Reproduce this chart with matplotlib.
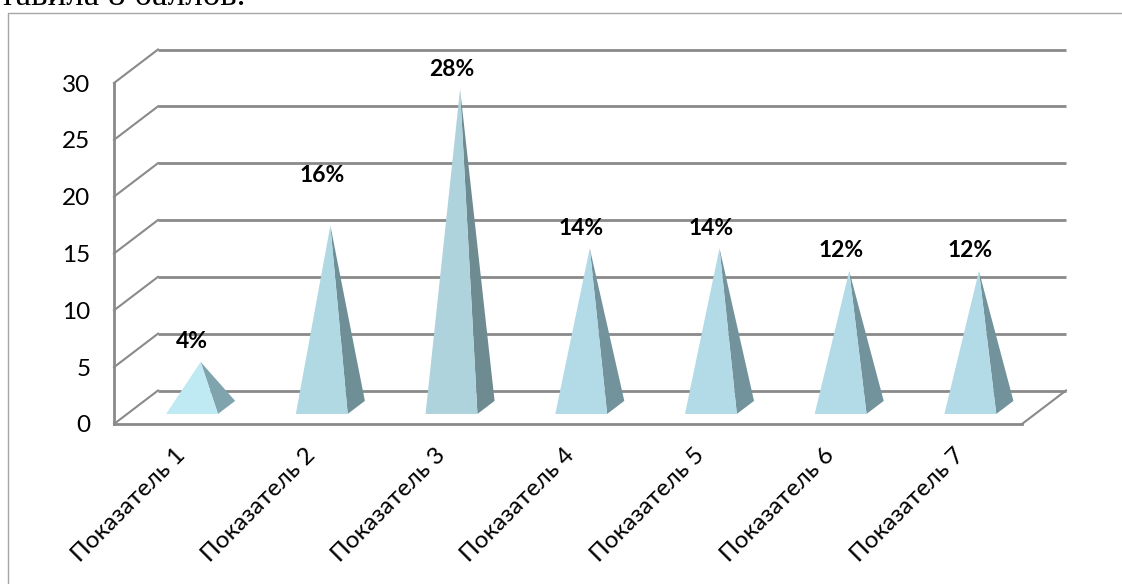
import matplotlib
matplotlib.use("Agg")
import matplotlib.pyplot as plt
from matplotlib.patches import Polygon
from matplotlib.transforms import ScaledTranslation

plt.rcParams['font.family'] = ['Lato', 'Open Sans', 'DejaVu Sans']

categories = ["Показатель 1", "Показатель 2", "Показатель 3", "Показатель 4",
              "Показатель 5", "Показатель 6", "Показатель 7"]
values = [4, 16, 28, 14, 14, 12, 12]
y_ticks = [0, 5, 10, 15, 20, 25, 30]
label_lift = [0, 30, 0, 0, 0, 0, 0]
front_colors = ["#bfe9f3", "#b0d9e3", "#aed3dd", "#b3dbe7", "#b3dbe7", "#b3dbe7", "#b3dbe7"]
side_colors = ["#7fa4ae", "#6f8f96", "#6e8b91", "#72929c", "#72929c", "#72929c", "#72929c"]
heading = "тавила 8 баллов."

W, H = 1122, 584
GRID = "#8a8a8a"

fig = plt.figure(figsize=(W / 100, H / 100), dpi=100)
ax = fig.add_axes([114 / W, 1 - 424 / H, 908 / W, 341 / H])
ax.set_xlim(0, len(categories))
ax.set_ylim(0, 30)
ax.patch.set_visible(False)

# Oblique depth of the 3D box, expressed in data units
DEPTH_X = 44 / (908 / len(categories))
DEPTH_Y = 33.5 / (341 / 30)


def project(x, y, d):
    return x + d * DEPTH_X, y + d * DEPTH_Y


# Back wall gridlines and their diagonals on the side wall
for v in y_ticks:
    xs, ys = zip(project(0, v, 1), project(len(categories), v, 1))
    ax.plot(xs, ys, color=GRID, lw=2.0, clip_on=False, solid_capstyle="butt", zorder=1)
    xs, ys = zip(project(0, v, 0), project(0, v, 1))
    ax.plot(xs, ys, color=GRID, lw=1.5, clip_on=False, zorder=1)
xs, ys = zip(project(len(categories), 0, 0), project(len(categories), 0, 1))
ax.plot(xs, ys, color=GRID, lw=1.5, clip_on=False, zorder=1)

# Pyramids: a front face and a shaded right face
HALF = 0.2
D_FRONT, D_BACK = 0.3, 0.69
for i, v in enumerate(values):
    c = i + 0.5
    fl = project(c - HALF, 0, D_FRONT)
    fr = project(c + HALF, 0, D_FRONT)
    br = project(c + HALF, 0, D_BACK)
    apex = project(c, v, (D_FRONT + D_BACK) / 2)
    ax.add_patch(Polygon([fr, br, apex], closed=True, fc=side_colors[i], ec="none", clip_on=False, zorder=3))
    ax.add_patch(Polygon([fl, fr, apex], closed=True, fc=front_colors[i], ec="none", clip_on=False, zorder=4))
    label_x = project(c, 0, D_FRONT)[0]
    label_y = apex[1] + label_lift[i] / (341 / 30)
    ax.annotate(f"{v}%", xy=(label_x, label_y), xytext=(0, 14.5), textcoords="offset points",
                ha="center", va="center", fontsize=16.5, fontweight="bold", color="black",
                annotation_clip=False, zorder=6)

for side in ("top", "right"):
    ax.spines[side].set_visible(False)
for side in ("left", "bottom"):
    ax.spines[side].set_color(GRID)
    ax.spines[side].set_linewidth(2.0)
    ax.spines[side].set_zorder(2)

ax.set_yticks(y_ticks)
ax.tick_params(axis="y", length=0, labelsize=17.5, pad=17)
ax.set_xticks([i + 0.5 for i in range(len(categories))])
ax.set_xticklabels(categories, rotation=45, ha="right", rotation_mode="anchor", fontsize=17.5)
ax.tick_params(axis="x", length=0, pad=15)
nudge = ScaledTranslation(-4 / 100, 0, fig.dpi_scale_trans)
for tick_label in ax.get_xticklabels():
    tick_label.set_transform(tick_label.get_transform() + nudge)

# Chart frame and the line of document text above it
fig.add_artist(plt.Line2D([8 / W, 8 / W, 1], [0, 1 - 13 / H, 1 - 13 / H],
                          color="#a6a6a6", lw=1.0))
fig.text(0, 1 - 5 / H, heading, family=["Liberation Serif"], fontsize=25, va="baseline", ha="left")

fig.savefig("out.png", dpi=100)
